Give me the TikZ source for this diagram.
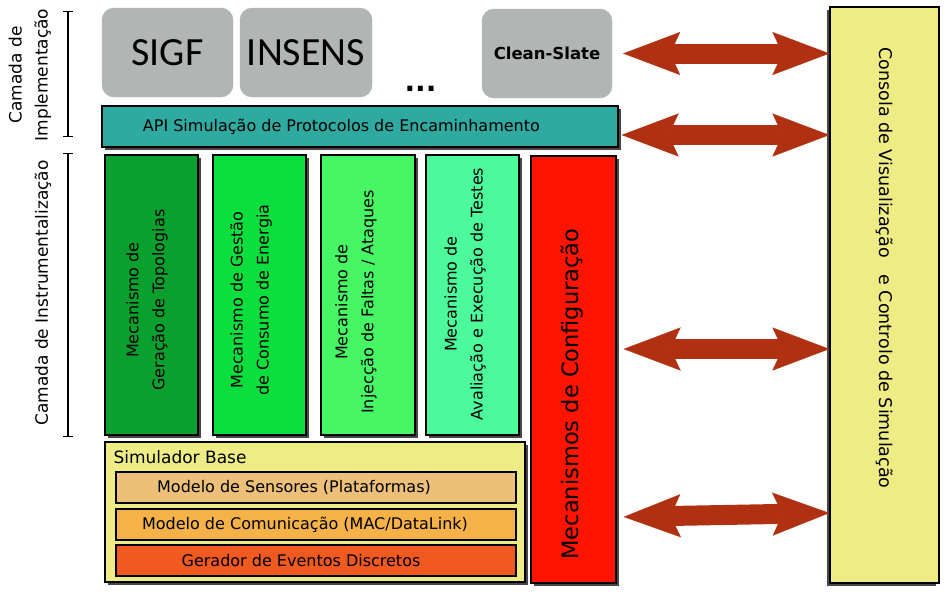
\documentclass[tikz,border=0pt]{standalone}
\usepackage{fontspec}
\setmainfont{DejaVu Sans}
\newfontfamily\slimfont{Carlito}
\usetikzlibrary{shadows,arrows.meta}

\definecolor{protogrey}{RGB}{177,182,180}
\definecolor{apiteal}{RGB}{47,170,160}
\definecolor{topogreen}{RGB}{10,160,45}
\definecolor{energygreen}{RGB}{12,222,62}
\definecolor{faultgreen}{RGB}{70,246,100}
\definecolor{testgreen}{RGB}{76,250,155}
\definecolor{configred}{RGB}{255,20,0}
\definecolor{baseyellow}{RGB}{238,236,132}
\definecolor{sensorbeige}{RGB}{237,192,122}
\definecolor{commorange}{RGB}{244,178,72}
\definecolor{eventorange}{RGB}{240,90,30}
\definecolor{arrowred}{RGB}{176,48,18}

\newcommand\textsz{\fontsize{16}{26}\selectfont}
\newcommand\layersz{\fontsize{17}{26}\selectfont}

\tikzset{
  shade box/.style={draw=black, line width=1.2pt,
    drop shadow={shadow xshift=3pt, shadow yshift=-3pt, fill=black!72, opacity=1}},
  protobox/.style={draw=black!30, fill=protogrey, rounded corners=12pt,
    minimum width=131pt, minimum height=89pt},
  mechbox/.style={shade box, minimum width=93pt, minimum height=280pt},
  mechtext/.style={rotate=90, align=center, font=\textsz},
  modelbox/.style={draw=black, line width=1.2pt, minimum width=400pt, minimum height=31pt},
  dblarrow/.style={draw=arrowred, line width=20pt,
    {Stealth[length=57pt, width=43pt, inset=10pt, line width=0.1pt]}-{Stealth[length=57pt, width=43pt, inset=10pt, line width=0.1pt]}},
  layerbar/.style={line width=1.2pt, {Bar[width=10pt]}-{Bar[width=10pt]}}
}

\begin{document}
\begin{tikzpicture}[x=1pt, y=-1pt, font=\textsz]
\useasboundingbox (0,0) rectangle (949,592);

% camada de implementacao
\node[protobox, font=\slimfont\fontsize{40}{44}\selectfont] (sigf) at (167.5,52.5) {SIGF};
\node[protobox, minimum width=132pt, font=\slimfont\fontsize{40}{44}\selectfont] (insens) at (306,52.5) {INSENS};
\node[font=\bfseries\fontsize{28}{30}\selectfont] (dots) at (420.5,89) {...};
\node[protobox, minimum width=130pt, font=\bfseries\fontsize{16.5}{20}\selectfont] (clean) at (547,53.5) {Clean-Slate};
\node[shade box, fill=apiteal, minimum width=516pt, minimum height=41pt] (api) at (360,126.5) {};
\node[anchor=west] (apitext) at ([xshift=38pt]api.west) {API Simulação de Protocolos de Encaminhamento};

% camada de instrumentalizacao
\node[mechbox, fill=topogreen] (topo) at (151.5,295) {};
\node[mechbox, fill=energygreen] (energia) at (259.5,295) {};
\node[mechbox, fill=faultgreen, minimum width=94pt] (faltas) at (368,295) {};
\node[mechbox, fill=testgreen] (testes) at (472.5,295) {};
\node[mechtext] (topotext) at (147,300) {Mecanismo de\\Geração de Topologias};
\node[mechtext] (energiatext) at (251,300) {Mecanismo de Gestão\\de Consumo de Energia};
\node[mechtext] (faltastext) at (356,302) {Mecanismo de\\Injecção de Faltas / Ataques};
\node[mechtext] (testestext) at (465,294) {Mecanismo de\\Avaliação e Execução de Testes};

\node[shade box, fill=configred, minimum width=85pt, minimum height=427pt] (config) at (573.5,369.5) {};
\node[rotate=90, font=\fontsize{22.5}{26}\selectfont] (configtext) at (572,394) {Mecanismos de Configuração};

% simulador base
\node[shade box, fill=baseyellow, minimum width=420pt, minimum height=140pt] (base) at (315,512) {};
\node[anchor=west, font=\layersz] (basetext) at (110,457) {Simulador Base};
\node[modelbox, fill=sensorbeige] (sensores) at (316,487.5) {};
\node[modelbox, fill=commorange] (comunic) at (316,524.5) {};
\node[modelbox, fill=eventorange] (eventos) at (316,560.5) {};
\node (sensorestext) at (294,487.5) {Modelo de Sensores (Plataformas)};
\node (comunictext) at (305,524.5) {Modelo de Comunicação (MAC/DataLink)};
\node (eventostext) at (301,560.5) {Gerador de Eventos Discretos};

% consola
\node[draw=black, line width=1.2pt, fill=baseyellow, minimum width=109pt, minimum height=576pt,
  drop shadow={shadow xshift=-3pt, shadow yshift=-3pt, fill=black!72, opacity=1}] (consola) at (884.5,295) {};
\node[rotate=-90, font=\fontsize{17.5}{20}\selectfont] (consolatext) at (885,268)
  {Consola de Visualização \ \ e Controlo de Simulação};

% camadas
\coordinate (impltop) at (68,11);
\coordinate (implbot) at (68,137);
\coordinate (insttop) at (68,153);
\coordinate (instbot) at (68,437);
\draw[layerbar] (impltop) -- (implbot);
\draw[layerbar] (insttop) -- (instbot);
\node[rotate=90, align=center, font=\layersz] (impltext) at (30,75) {Camada de\\Implementação};
\node[rotate=90, font=\layersz] (insttext) at (43,293) {Camada de Instrumentalização};

% ligacoes a consola
\draw[dblarrow, shorten <=11pt] (clean.east) -- (consola.west |- clean.east);
\draw[dblarrow, shorten <=3pt] (api.east |- 0,135) -- (consola.west |- 0,135);
\draw[dblarrow, shorten <=7pt] (config.east |- 0,349) -- (consola.west |- 0,349);
\draw[dblarrow, shorten <=7pt] (config.east |- 0,517) -- (consola.west |- 0,513);
\end{tikzpicture}
\end{document}
